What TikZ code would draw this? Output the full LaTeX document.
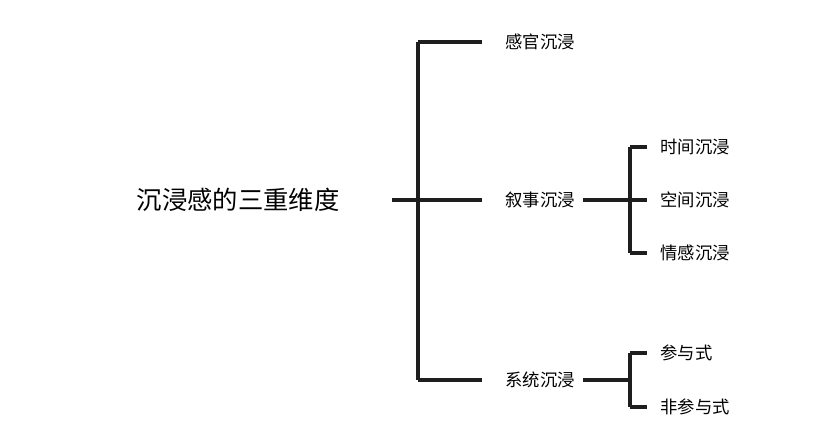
\documentclass[tikz,border=0pt]{standalone}
\usepackage{fontspec}
\setmainfont{Noto Sans CJK SC}
\usetikzlibrary{positioning}
\tikzset{every picture/.style={line width=0.75pt}}
\tikzset{
  bracket/.style={line width=3pt, color={rgb, 255:red, 30; green, 30; blue, 30}},
  leaf/.style={anchor=west, inner sep=0pt, font=\fontsize{13}{15}\selectfont},
}
\begin{document}
\begin{tikzpicture}[x=0.75pt,y=0.75pt,yscale=-1,xscale=1]
    \useasboundingbox (0,0) rectangle (823,441);

    %root
    \node [font=\fontsize{19}{22}\selectfont] (root) at (238,200) {沉浸感的三重维度};
    %first level
    \node [leaf] (sense) at (505,42) {感官沉浸};
    \node [leaf] (story) at (505,200) {叙事沉浸};
    \node [leaf] (sys) at (505,380) {系统沉浸};
    %second level
    \node [leaf] (time) at (660,147) {时间沉浸};
    \node [leaf] (space) at (660,200) {空间沉浸};
    \node [leaf] (emo) at (660,253) {情感沉浸};
    \node [leaf] (part) at (660,353) {参与式};
    \node [leaf] (nonpart) at (660,407) {非参与式};

    %bracket from root
    \draw [bracket] (root.east) ++(48,0) -- (418,200);
    \draw [bracket] (418,42) -- (418,380);
    \draw [bracket] (418,42) -- ([xshift=-17]sense.west);
    \draw [bracket] (418,200) -- ([xshift=-17]story.west);
    \draw [bracket] (418,380) -- ([xshift=-17]sys.west);

    %bracket from story
    \draw [bracket] ([xshift=6]story.east) -- (630,200);
    \draw [bracket] (630,147) -- (630,253);
    \draw [bracket] (630,147) -- ([xshift=-10]time.west);
    \draw [bracket] (630,200) -- ([xshift=-10]space.west);
    \draw [bracket] (630,253) -- ([xshift=-10]emo.west);

    %bracket from sys
    \draw [bracket] ([xshift=6]sys.east) -- (630,380);
    \draw [bracket] (630,353) -- (630,407);
    \draw [bracket] (630,353) -- ([xshift=-10]part.west);
    \draw [bracket] (630,407) -- ([xshift=-10]nonpart.west);
\end{tikzpicture}
\end{document}
